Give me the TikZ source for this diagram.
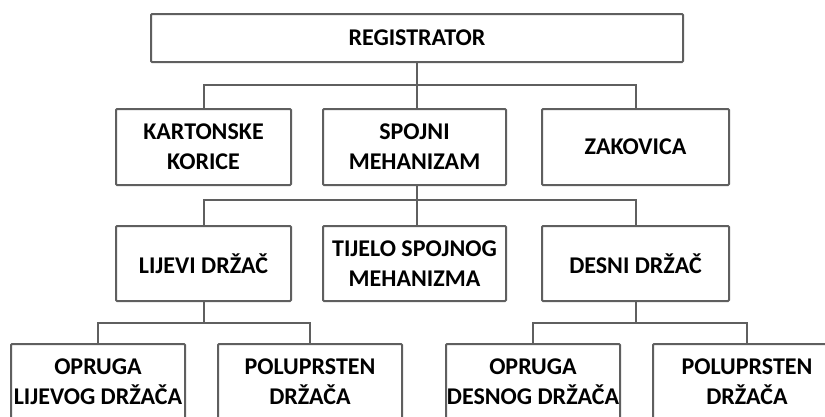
\documentclass[tikz,border=0pt]{standalone}
\usepackage{fontspec}
\setmainfont{Carlito}
\usepackage{tikz}
\usetikzlibrary{calc}
\definecolor{linegray}{RGB}{95,95,95}
\tikzset{
  part/.style={draw=linegray, line width=2pt, rounded corners=1pt, fill=white,
    inner sep=0pt, align=center, font=\fontsize{24}{30}\selectfont\bfseries},
  link/.style={draw=linegray, line width=2pt}
}

\begin{document}
\begin{tikzpicture}[x=1pt, y=-1pt]
    \useasboundingbox (0,0) rectangle (825,416);
    \clip (0,0) rectangle (825,416);

    % top
    \node[part, minimum width=532, minimum height=48] (reg) at (417, 38) {REGISTRATOR};

    % second row
    \node[part, minimum width=175, minimum height=76] (kart) at (203.5, 147) {KARTONSKE\\KORICE};
    \node[part, minimum width=183, minimum height=76] (spoj) at (414.5, 147) {SPOJNI\\MEHANIZAM};
    \node[part, minimum width=187, minimum height=76] (zak) at (635.5, 147) {ZAKOVICA};

    % third row
    \node[part, minimum width=175, minimum height=75] (lij) at (203.5, 263.5) {LIJEVI DRŽAČ};
    \node[part, minimum width=183, minimum height=75] (tij) at (414.5, 263.5) {TIJELO SPOJNOG\\MEHANIZMA};
    \node[part, minimum width=187, minimum height=75] (des) at (635.5, 263.5) {DESNI DRŽAČ};

    % bottom row
    \node[part, minimum width=174, minimum height=76] (oprl) at (98, 382) {OPRUGA\\LIJEVOG DRŽAČA};
    \node[part, minimum width=184, minimum height=76] (polul) at (310, 382) {POLUPRSTEN\\DRŽAČA};
    \node[part, minimum width=174, minimum height=76] (oprd) at (533, 382) {OPRUGA\\DESNOG DRŽAČA};
    \node[part, minimum width=188, minimum height=76] (polud) at (747, 382) {POLUPRSTEN\\DRŽAČA};

    % connectors
    \coordinate (j1) at (reg.south |- 0,85);
    \draw[link] (reg.south) -- (j1);
    \draw[link] (kart.north) |- (j1) -| (zak.north);
    \draw[link] (j1) -- (spoj.north -| j1);

    \coordinate (j2) at (j1 |- 0,200);
    \draw[link] (spoj.south -| j2) -- (j2);
    \draw[link] (lij.north) |- (j2) -| (des.north);
    \draw[link] (j2) -- (tij.north -| j2);

    \draw[link] (lij.south) -- ++(0,21) coordinate (j3);
    \draw[link] (oprl.north) |- (j3) -| (polul.north);
    \draw[link] (des.south) -- ++(0,21) coordinate (j4);
    \draw[link] (oprd.north) |- (j4) -| (polud.north);
\end{tikzpicture}
\end{document}
